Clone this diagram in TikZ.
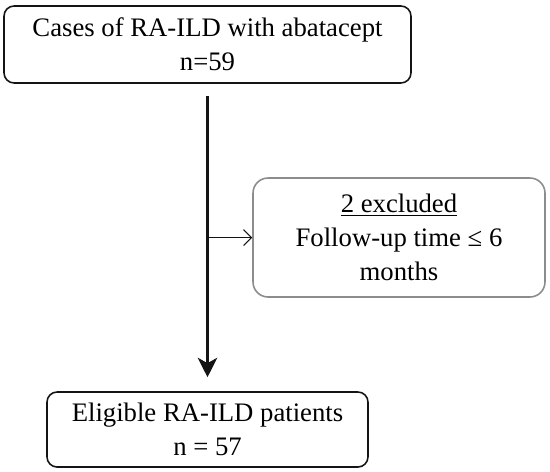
\documentclass[tikz,border=0pt]{standalone}
\usepackage{fontspec}
\setmainfont{Liberation Serif}
\usepackage{xcolor}
\usepackage{tikz}
\usetikzlibrary{arrows.meta, positioning, calc}
\definecolor{boxblack}{RGB}{20, 20, 20}
\definecolor{boxgray}{RGB}{140, 140, 140}

\begin{document}
\begin{tikzpicture}[x=0.02cm, y=-0.02cm,
    flowbox/.style={draw=boxblack, line width=0.9pt, rounded corners=0.2cm, align=center,
        inner sep=0pt, font=\fontsize{15.2}{19.5}\selectfont},
    exclbox/.style={flowbox, draw=boxgray, rounded corners=0.3cm}]
            \useasboundingbox (0,0) rectangle (550,471);

            \node[flowbox, minimum width=8.14cm, minimum height=1.54cm] (cases) at (207.5, 44.5) {Cases of RA-ILD with abatacept\\n=59};
            \node[exclbox, minimum width=5.84cm, minimum height=2.38cm] (excl) at (399, 237.5) {\underline{2 excluded}\\Follow-up time ≤ 6\\months};
            \node[flowbox, minimum width=6.42cm, minimum height=1.5cm] (eligible) at (207.5, 429.5) {Eligible RA-ILD patients\\n = 57};

            \draw[-{Stealth[length=11pt, width=11pt, inset=3pt]}, line width=2pt, boxblack, shorten <=0.24cm, shorten >=0.28cm] (cases.south) -- (eligible.north);
            \draw[-{Straight Barb[length=4.5pt, width=9pt]}, line width=0.6pt, boxblack] (excl.west -| cases.south) -- (excl.west);
        \end{tikzpicture}
\end{document}
